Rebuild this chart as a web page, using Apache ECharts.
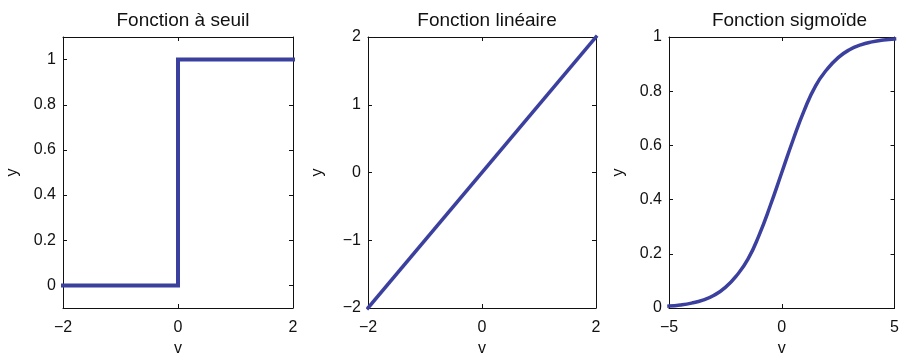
<!DOCTYPE html>
<html>
<head>
<meta charset="utf-8">
<script src="https://cdn.jsdelivr.net/npm/echarts@6/dist/echarts.min.js"></script>
<style>
  html, body { margin: 0; padding: 0; background: #ffffff; }
  #chart { width: 902px; height: 362px; }
</style>
</head>
<body>
<div id="chart"></div>
<script>
// Panel titles
const titles = ['Fonction à seuil', 'Fonction linéaire', 'Fonction sigmoïde'];

// Threshold function
const stepV = [-2, 0, 0, 2];
const stepY = [0, 0, 1, 1];

// Linear function
const linV = [-2, 2];
const linY = [-2, 2];

// Sigmoid function
const sigV = [-5, -4.5, -4, -3.5, -3, -2.5, -2, -1.5, -1, -0.5, 0, 0.5, 1, 1.5, 2, 2.5, 3, 3.5, 4, 4.5, 5];
const sigY = [0.007, 0.011, 0.018, 0.029, 0.047, 0.076, 0.12, 0.18, 0.27, 0.38, 0.5, 0.62, 0.73, 0.82, 0.88, 0.924, 0.953, 0.971, 0.982, 0.989, 0.993];

// Tick values
const stepXTicks = [-2, 0, 2];
const stepYTicks = [0, 0.2, 0.4, 0.6, 0.8, 1];
const linXTicks = [-2, 0, 2];
const linYTicks = [-2, -1, 0, 1, 2];
const sigXTicks = [-5, 0, 5];
const sigYTicks = [0, 0.2, 0.4, 0.6, 0.8, 1];

const pairs = (xs, ys) => xs.map((x, i) => [x, ys[i]]);

const lineColor = '#3b3f9e';
const font = 'Liberation Sans, Arial, Helvetica, sans-serif';
const fmt = v => String(v).replace('-', '\u2212');

const panels = [
  { left: 63, width: 230, xr: [-2, 2], yr: [-0.1, 1.1], xt: stepXTicks, yt: stepYTicks, data: pairs(stepV, stepY), lw: 4, smooth: false },
  { left: 368, width: 228, xr: [-2, 2], yr: [-2, 2], xt: linXTicks, yt: linYTicks, data: pairs(linV, linY), lw: 3.5, smooth: false },
  { left: 669, width: 231, xr: [-5, 5], yr: [0, 1], xt: sigXTicks, yt: sigYTicks, data: pairs(sigV, sigY), lw: 3.5, smooth: true }
];

const grid = [], xAxis = [], yAxis = [], series = [], title = [];
const axisLine = { show: true, onZero: false, lineStyle: { color: '#111', width: 1 } };
const tick = vals => ({ show: true, inside: true, length: 4, customValues: vals, lineStyle: { color: '#111' } });
const labelStyle = { fontFamily: font, fontSize: 16, color: '#111' };

panels.forEach((p, i) => {
  grid.push({ left: p.left, width: p.width, top: 37, height: 277, containLabel: false });
  title.push({
    text: titles[i], left: p.left + p.width / 2, top: 6, textAlign: 'center',
    textStyle: { fontFamily: font, fontSize: 19, fontWeight: 'normal', color: '#111' }
  });
  // bottom and top x axes
  xAxis.push({
    type: 'value', gridIndex: i, min: p.xr[0], max: p.xr[1], position: 'bottom',
    name: 'v', nameLocation: 'middle', nameGap: 33, nameTextStyle: labelStyle,
    axisLine, splitLine: { show: false }, axisTick: tick(p.xt),
    axisLabel: Object.assign({ customValues: p.xt, formatter: fmt, margin: 12, showMinLabel: true, showMaxLabel: true }, labelStyle)
  });
  xAxis.push({
    type: 'value', gridIndex: i, min: p.xr[0], max: p.xr[1], position: 'top',
    axisLine, splitLine: { show: false }, axisTick: tick(p.xt), axisLabel: { show: false }
  });
  // left and right y axes
  yAxis.push({
    type: 'value', gridIndex: i, min: p.yr[0], max: p.yr[1], position: 'left',
    name: 'y', nameLocation: 'middle', nameGap: 42, nameTextStyle: labelStyle,
    axisLine, splitLine: { show: false }, axisTick: tick(p.yt),
    axisLabel: Object.assign({ customValues: p.yt, formatter: fmt, margin: 7, showMinLabel: true, showMaxLabel: true }, labelStyle)
  });
  yAxis.push({
    type: 'value', gridIndex: i, min: p.yr[0], max: p.yr[1], position: 'right',
    axisLine, splitLine: { show: false }, axisTick: tick(p.yt), axisLabel: { show: false }
  });
  series.push({
    type: 'line', xAxisIndex: i * 2, yAxisIndex: i * 2, data: p.data,
    showSymbol: false, smooth: p.smooth, clip: false,
    lineStyle: { color: lineColor, width: p.lw, cap: 'square', join: 'miter' },
    itemStyle: { color: lineColor }
  });
});

const chart = echarts.init(document.getElementById('chart'), null, { renderer: 'canvas' });
chart.setOption({
  animation: false,
  backgroundColor: '#ffffff',
  title, grid, xAxis, yAxis, series
});
</script>
</body>
</html>
